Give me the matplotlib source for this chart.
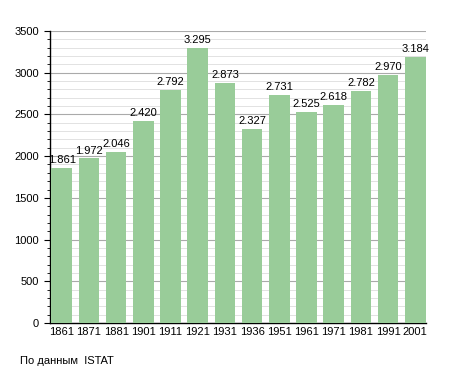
import matplotlib
matplotlib.use("Agg")
import matplotlib.pyplot as plt
from matplotlib.ticker import MultipleLocator

years = ["1861", "1871", "1881", "1901", "1911", "1921", "1931", "1936",
         "1951", "1961", "1971", "1981", "1991", "2001"]
population = [1861, 1972, 2046, 2420, 2792, 3295, 2873, 2327,
              2731, 2525, 2618, 2782, 2970, 3184]
labels = ["1.861", "1.972", "2.046", "2.420", "2.792", "3.295", "2.873", "2.327",
          "2.731", "2.525", "2.618", "2.782", "2.970", "3.184"]

plt.rcParams['font.family'] = ['Liberation Sans', 'DejaVu Sans']

fig = plt.figure(figsize=(4.55, 3.73), dpi=100)
ax = fig.add_axes([0.110, 0.134, 0.826, 0.783])

x = list(range(len(years)))
ax.bar(x, population, width=0.76, color="#99cc99", zorder=3)
for xi, v, lab in zip(x, population, labels):
    ax.text(xi, v + 35, lab, ha="center", va="bottom", fontsize=8, zorder=4)

ax.set_xlim(-0.43, len(years) - 1 + 0.39)
ax.set_ylim(0, 3500)
ax.yaxis.set_major_locator(MultipleLocator(500))
ax.yaxis.set_minor_locator(MultipleLocator(100))
ax.grid(axis="y", which="major", color="#aaaaaa", linewidth=0.8, zorder=0)
ax.grid(axis="y", which="minor", color="#dddddd", linewidth=0.6, zorder=0)
ax.set_xticks(x)
ax.set_xticklabels(years)
ax.tick_params(axis="x", length=0, labelsize=8, pad=3)
ax.tick_params(axis="y", which="major", length=4, labelsize=8, width=0.8, pad=4)
ax.tick_params(axis="y", which="minor", length=2.5, width=0.6)
for s in ["top", "right"]:
    ax.spines[s].set_visible(False)
ax.spines["left"].set_linewidth(1)
ax.spines["bottom"].set_linewidth(1)

fig.text(20 / 455, 1 - 361 / 373, "По данным  ISTAT", fontsize=8, va="center", ha="left")

fig.savefig("out.png", dpi=100)
